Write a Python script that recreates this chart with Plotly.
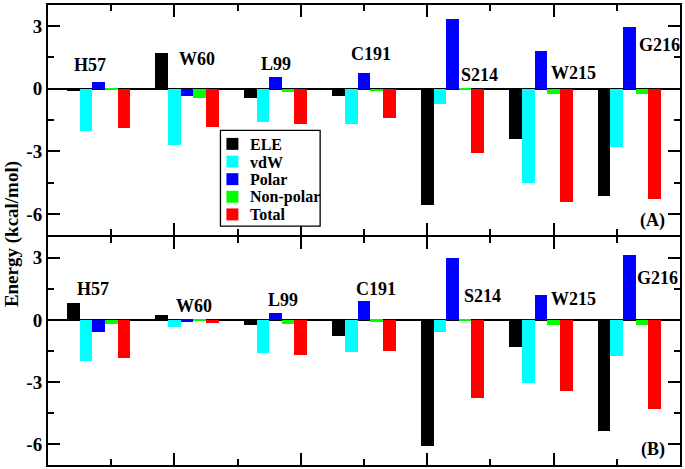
import plotly.graph_objects as go

residues = ["H57", "W60", "L99", "C191", "S214", "W215", "G216"]
components = ["ELE", "vdW", "Polar", "Non-polar", "Total"]
colors = ["#000000", "#00FFFF", "#0000FF", "#00FF00", "#FF0000"]

# Panel (A)
ele_a = [-0.13, 1.70, -0.44, -0.35, -5.57, -2.40, -5.14]
vdw_a = [-2.03, -2.71, -1.59, -1.68, -0.73, -4.52, -2.78]
polar_a = [0.33, -0.33, 0.54, 0.76, 3.33, 1.79, 2.94]
nonpolar_a = [-0.05, -0.46, -0.16, -0.10, -0.02, -0.27, -0.27]
total_a = [-1.90, -1.84, -1.68, -1.40, -3.06, -5.43, -5.30]

# Panel (B)
ele_b = [0.84, 0.25, -0.25, -0.77, -6.08, -1.30, -5.38]
vdw_b = [-1.98, -0.32, -1.60, -1.55, -0.59, -3.06, -1.75]
polar_b = [-0.56, -0.08, 0.35, 0.91, 3.00, 1.19, 3.11]
nonpolar_b = [-0.19, -0.05, -0.22, -0.09, -0.06, -0.23, -0.25]
total_b = [-1.86, -0.17, -1.70, -1.52, -3.75, -3.42, -4.30]

# residue label anchor positions (data units)
lab_a_x = [0.66, 2.35, 3.60, 5.11, 6.82, 8.32, 9.67]
lab_a_y = [1.14, 1.44, 1.20, 1.68, 0.65, 0.73, 2.08]
lab_b_x = [0.71, 2.31, 3.72, 5.19, 6.88, 8.32, 9.64]
lab_b_y = [1.50, 0.68, 0.95, 1.48, 1.16, 1.00, 2.03]

group_start = 0.4
group_step = 1.4
bar_w = 0.2

FONT = "Liberation Serif"
W, H = 685, 469
ML, MR, MT, MB = 48, 3, 3, 4
PW, PH = W - ML - MR, H - MT - MB


def px_x(p):
    return (p - ML) / PW


def px_y(p):
    return (H - MB - p) / PH


fig = go.Figure()

panels = [
    ([ele_a, vdw_a, polar_a, nonpolar_a, total_a], "x", "y"),
    ([ele_b, vdw_b, polar_b, nonpolar_b, total_b], "x2", "y2"),
]
for series, xa, ya in panels:
    for j, (name, col, vals) in enumerate(zip(components, colors, series)):
        xs = [group_start + group_step * i + bar_w * j for i in range(len(residues))]
        fig.add_trace(go.Bar(
            x=xs, y=vals, width=bar_w, name=name,
            marker=dict(color=col, line=dict(width=0)),
            xaxis=xa, yaxis=ya, showlegend=False,
        ))

axis_common = dict(
    showline=True, linecolor="black", linewidth=2, mirror="allticks",
    ticks="inside", ticklen=12, tickwidth=2, tickcolor="black",
    showgrid=False,
)
xaxis_common = dict(axis_common, range=[0, 10], tickmode="linear", tick0=0, dtick=2,
                    showticklabels=False, zeroline=False,
                    minor=dict(ticks="inside", ticklen=6, tickwidth=2, tickcolor="black",
                               tickmode="linear", tick0=0, dtick=1, showgrid=False))
yaxis_common = dict(axis_common, range=[-7, 4], tickmode="array", tickvals=[-6, -3, 0, 3],
                    ticktext=["-6", "-3", "0", "3"],
                    tickfont=dict(family=FONT, size=19, color="black", weight="bold"),
                    zeroline=True, zerolinecolor="black", zerolinewidth=2,
                    minor=dict(ticks="inside", ticklen=6, tickwidth=2, tickcolor="black",
                               tickmode="linear", tick0=-7.5, dtick=1.5, showgrid=False))

fig.update_layout(
    width=W, height=H,
    margin=dict(l=ML, r=MR, t=MT, b=MB),
    paper_bgcolor="white", plot_bgcolor="white",
    barmode="overlay", bargap=0,
    xaxis=dict(xaxis_common, domain=[0, 1], anchor="y"),
    yaxis=dict(yaxis_common, domain=[0.5, 1], anchor="x"),
    xaxis2=dict(xaxis_common, domain=[0, 1], anchor="y2"),
    yaxis2=dict(yaxis_common, domain=[0, 0.4957], anchor="x2"),
    showlegend=False,
)

lab_font = dict(family=FONT, size=18, color="black", weight="bold")
annotations = []
for name, xv, yv in zip(residues, lab_a_x, lab_a_y):
    annotations.append(dict(x=xv, y=yv, xref="x", yref="y", text=name, showarrow=False, font=lab_font))
for name, xv, yv in zip(residues, lab_b_x, lab_b_y):
    annotations.append(dict(x=xv, y=yv, xref="x2", yref="y2", text=name, showarrow=False, font=lab_font))
annotations.append(dict(x=9.57, y=-6.33, xref="x", yref="y", text="(A)", showarrow=False, font=lab_font))
annotations.append(dict(x=9.57, y=-6.27, xref="x2", yref="y2", text="(B)", showarrow=False, font=lab_font))
annotations.append(dict(x=px_x(12), y=px_y(233), xref="paper", yref="paper", text="Energy (kcal/mol)",
                        showarrow=False, textangle=-90, xanchor="center", yanchor="middle",
                        font=dict(family=FONT, size=19, color="black", weight="bold")))

# legend box (drawn in panel A)
shapes = [dict(type="rect", xref="paper", yref="paper",
               x0=px_x(221), x1=px_x(321), y0=px_y(129), y1=px_y(225),
               line=dict(color="black", width=1.3), fillcolor="white", layer="above")]
leg_top, leg_step = 142.5, 17.7
for k, (name, col) in enumerate(zip(components, colors)):
    cy = leg_top + leg_step * k
    shapes.append(dict(type="rect", xref="paper", yref="paper",
                       x0=px_x(227), x1=px_x(239), y0=px_y(cy - 6), y1=px_y(cy + 6),
                       line=dict(width=0), fillcolor=col, layer="above"))
    annotations.append(dict(x=px_x(249), y=px_y(cy + 0.5), xref="paper", yref="paper", text=name,
                            showarrow=False, xanchor="left", yanchor="middle",
                            font=dict(family=FONT, size=16, color="black", weight="bold")))
fig.update_layout(annotations=annotations, shapes=shapes)

fig.write_html("out.html", config={"displayModeBar": False},
               post_script="document.body.style.margin='0px';document.body.style.overflow='hidden';")
